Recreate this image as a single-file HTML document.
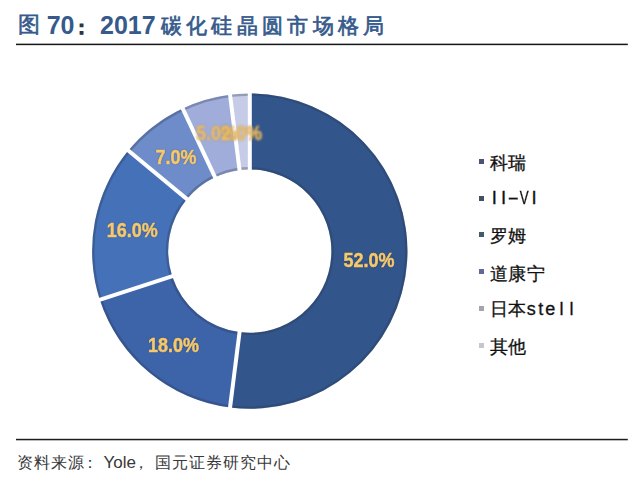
<!DOCTYPE html>
<html><head><meta charset="utf-8"><style>
html,body{margin:0;padding:0;}
body{width:640px;height:486px;background:#fff;position:relative;overflow:hidden;font-family:"Liberation Sans",sans-serif;}
.t{position:absolute;white-space:nowrap;}
.title{color:#365a8c;font-weight:bold;}
.lbl{position:absolute;font-weight:bold;color:#f5c96c;font-size:18px;line-height:18px;white-space:nowrap;transform:scaleY(1.1);transform-origin:0 0;text-shadow:0 0 1.5px rgba(25,25,45,0.6);-webkit-text-stroke:0.45px currentColor;}
.mk{position:absolute;left:479px;width:5px;height:5px;}
.lg{position:absolute;left:490.3px;font-size:18px;line-height:20px;color:#111;-webkit-text-stroke:0.3px #111;white-space:nowrap;letter-spacing:0.2px;}
.c{display:inline-block;text-align:center;letter-spacing:0;}
.v{font-size:18.5px;}
.s{font-size:18px;}
.f{position:absolute;font-size:16px;line-height:20px;color:#383838;white-space:nowrap;}
svg{position:absolute;left:0;top:0;}
</style></head><body>
<div class="t title" style="left:18px;top:12px;font-size:22px;line-height:26px;font-weight:normal;-webkit-text-stroke:0.6px #365a8c;">图</div>
<div class="t title" style="left:46.7px;top:11px;font-size:25px;line-height:28px;">70</div>
<div class="t" style="left:72px;top:15px;font-size:19px;line-height:26px;color:#2e3440;font-weight:bold;-webkit-text-stroke:0.9px #2e3440;">：</div>
<div class="t title" style="left:100px;top:11px;font-size:25px;line-height:28px;">2017</div>
<div class="t title" style="left:160.5px;top:13px;font-size:21px;line-height:26px;letter-spacing:4.35px;font-weight:400;-webkit-text-stroke:0.7px #365a8c;">碳化硅晶圆市场格局</div>
<svg width="640" height="486" viewBox="0 0 640 486">
<path fill="#32568c" d="M249.80,93.40A157.7,157.7 0 1 1 230.03,407.56L239.57,332.06A81.6,81.6 0 1 0 249.80,169.50Z"/>
<path fill="#3d63a9" d="M230.03,407.56A157.7,157.7 0 0 1 99.82,299.83L172.19,276.32A81.6,81.6 0 0 0 239.57,332.06Z"/>
<path fill="#4571b9" d="M99.82,299.83A157.7,157.7 0 0 1 128.29,150.58L186.93,199.09A81.6,81.6 0 0 0 172.19,276.32Z"/>
<path fill="#6e8cc9" d="M128.29,150.58A157.7,157.7 0 0 1 182.65,108.41L215.06,177.27A81.6,81.6 0 0 0 186.93,199.09Z"/>
<path fill="#a0addb" d="M182.65,108.41A157.7,157.7 0 0 1 230.03,94.64L239.57,170.14A81.6,81.6 0 0 0 215.06,177.27Z"/>
<path fill="#c6cbe7" d="M230.03,94.64A157.7,157.7 0 0 1 249.80,93.40L249.80,169.50A81.6,81.6 0 0 0 239.57,170.14Z"/>
<g fill="none" stroke="rgba(45,55,80,0.32)" stroke-width="2.4"><circle cx="249.8" cy="251.1" r="156.5"/><circle cx="249.8" cy="251.1" r="82.8"/></g>
<g stroke="#fff" stroke-width="4.0"><line x1="249.80" y1="171.50" x2="249.80" y2="91.40"/><line x1="239.82" y1="330.07" x2="229.78" y2="409.54"/><line x1="174.10" y1="275.70" x2="97.92" y2="300.45"/><line x1="188.47" y1="200.36" x2="126.75" y2="149.30"/><line x1="215.91" y1="179.08" x2="181.80" y2="106.60"/><line x1="239.82" y1="172.13" x2="229.78" y2="92.66"/></g>
<rect x="16" y="43.65" width="611.8" height="1.5" fill="#151515"/>
<rect x="16" y="438.8" width="611.8" height="1.5" fill="#1c1c1e"/>
</svg>
<div class="lbl" style="left:343.5px;top:249.7px;">52.0%</div>
<div class="lbl" style="left:148.0px;top:334.9px;">18.0%</div>
<div class="lbl" style="left:106.8px;top:220.2px;">16.0%</div>
<div class="lbl" style="left:155.6px;top:146.8px;">7.0%</div>
<div class="lbl" style="left:196.0px;top:123.0px;filter:blur(1.1px);color:#f2bf62;">5.0%</div>
<div class="lbl" style="left:221.0px;top:123.0px;filter:blur(1.1px);color:#f2bf62;">2.0%</div>
<div class="mk" style="top:158.50px;background:#4e5176;"></div>
<div class="lg" style="top:152.5px;">科瑞</div>
<div class="mk" style="top:195.50px;background:#424f64;"></div>
<div class="lg" style="top:188.0px;left:489.5px;"><span class="c v" style="width:9.4px">I</span><span class="c v" style="width:9.4px">I</span><span class="c v" style="width:9.4px"><span style="display:inline-block;transform:scaleX(1.85)">-</span></span><span class="c v" style="width:10.4px"><span style="display:inline-block;transform:scaleX(0.72)">V</span></span><span class="c v" style="width:12.2px">I</span></div>
<div class="mk" style="top:231.90px;background:#445a66;"></div>
<div class="lg" style="top:225.5px;">罗姆</div>
<div class="mk" style="top:268.50px;background:#606a98;"></div>
<div class="lg" style="top:263.5px;">道康宁</div>
<div class="mk" style="top:305.80px;background:#a4a4ac;"></div>
<div class="lg" style="top:299.0px;">日本<span class="c s" style="width:9.3px">s</span><span class="c s" style="width:9.3px">t</span><span class="c s" style="width:9.3px">e</span><span class="c s" style="width:14px">l</span><span class="c s" style="width:6px">l</span></div>
<div class="mk" style="top:342.50px;background:#c6c6ca;"></div>
<div class="lg" style="top:336.5px;">其他</div>
<div class="f" style="left:17px;top:453px;letter-spacing:1px;">资料来源</div>
<div class="f" style="left:82px;top:453px;">：</div>
<div class="f" style="left:103.5px;top:452.5px;font-size:17px;">Yole</div>
<div class="f" style="left:132.5px;top:453px;">，</div>
<div class="f" style="left:155px;top:453px;letter-spacing:1px;">国元证券研究中心</div>
</body></html>
